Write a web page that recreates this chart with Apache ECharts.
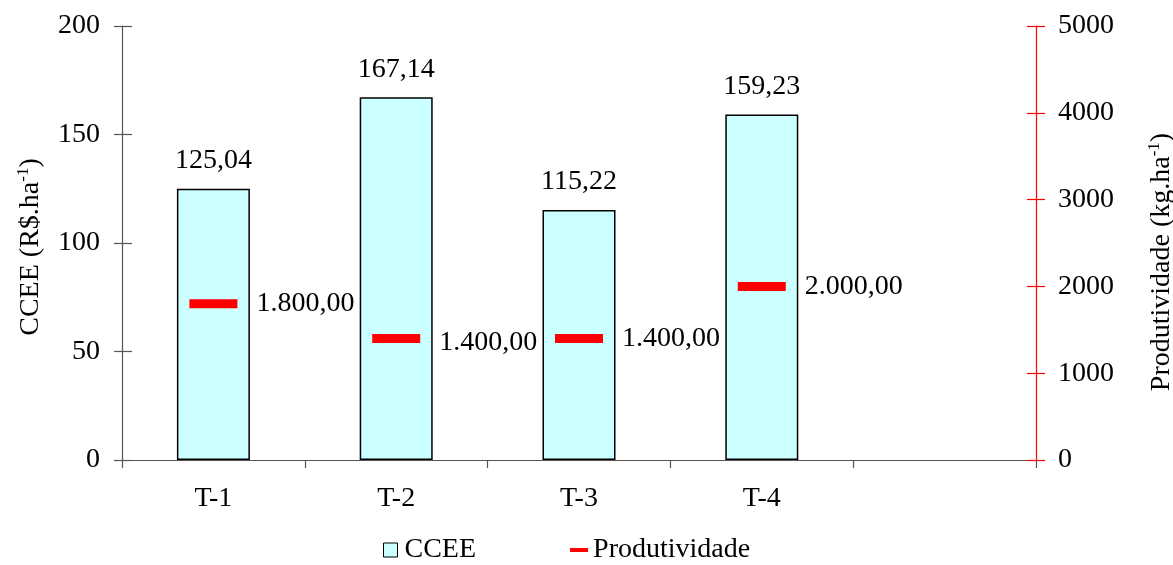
<!DOCTYPE html>
<html>
<head>
<meta charset="utf-8">
<script src="https://cdn.jsdelivr.net/npm/echarts@6/dist/echarts.min.js"></script>
<style>
  html, body { margin: 0; padding: 0; background: #fff; }
  #chart { width: 1173px; height: 565px; }
</style>
</head>
<body>
<div id="chart"></div>
<script>
// Treatments (the last slot is an empty category)
const categories = ['T-1', 'T-2', 'T-3', 'T-4', ''];
// CCEE cost per treatment (R$.ha-1)
const cceeValues = [125.04, 167.14, 115.22, 159.23, null];
// Productivity per treatment (kg.ha-1)
const prodValues = [1800, 1400, 1400, 2000, null];
// Axis ranges
const leftTicks = { min: 0, max: 200, interval: 50 };
const rightTicks = { min: 0, max: 5000, interval: 1000 };

const FONT = 'Liberation Serif';
const FS = 28;
const fmtBR = (v, d) => v.toFixed(d).replace('.', ',').replace(/\B(?=(\d{3})+(?!\d))/g, '.');

const chart = echarts.init(document.getElementById('chart'));

const baseText = { fontFamily: FONT, fontSize: FS, color: '#000' };
const nameRich = {
  t: { fontFamily: FONT, fontSize: FS, color: '#000' },
  s: { fontFamily: FONT, fontSize: 17, color: '#000', padding: [0, 0, 14, 0] }
};

chart.setOption({
  animation: false,
  backgroundColor: '#fff',
  textStyle: { fontFamily: FONT },
  grid: { left: 122, right: 137, top: 26, bottom: 105, containLabel: false, outerBoundsMode: 'none' },
  legend: {
    bottom: 1,
    left: 381,
    padding: 0,
    itemGap: 94,
    itemWidth: 18,
    itemHeight: 14,
    textStyle: Object.assign({}, baseText),
    data: [
      { name: 'CCEE', icon: 'path://M0,0 M2,0H16V14H2Z M18,14', itemStyle: { color: '#CCFFFF', borderColor: '#000', borderWidth: 1 } },
      { name: 'Produtividade', icon: 'path://M0,0 M0,5H18V9H0Z M18,14', itemStyle: { color: '#FF0000', borderWidth: 0, opacity: 1 } }
    ]
  },
  xAxis: {
    type: 'category',
    data: categories,
    boundaryGap: true,
    axisLine: { lineStyle: { color: '#555', width: 1.2 } },
    axisTick: { show: true, interval: 0, length: 8, lineStyle: { color: '#555', width: 1.2 } },
    axisLabel: Object.assign({}, baseText, { margin: 25, interval: 0 })
  },
  yAxis: [
    {
      type: 'value', position: 'left',
      min: leftTicks.min, max: leftTicks.max, interval: leftTicks.interval,
      name: '{t|CCEE (R$.ha}{s|-1}{t|)}',
      nameLocation: 'middle', nameRotate: 90, nameGap: 76,
      nameTextStyle: { rich: nameRich, padding: [0, 8, 0, 0] },
      axisLine: { show: true, lineStyle: { color: '#555', width: 1.2 } },
      axisTick: { show: true, length: 8, lineStyle: { color: '#555', width: 1.2 } },
      axisLabel: Object.assign({}, baseText, { margin: 22 }),
      splitLine: { show: false }
    },
    {
      type: 'value', position: 'right',
      min: rightTicks.min, max: rightTicks.max, interval: rightTicks.interval,
      name: '{t|Produtividade (kg.ha}{s|-1}{t|)}',
      nameLocation: 'middle', nameRotate: 90, nameGap: 110,
      nameTextStyle: { rich: nameRich, padding: [0, 38, 0, 0] },
      axisLine: { show: true, lineStyle: { color: '#FF0000', width: 1.2 } },
      axisTick: { show: true, length: 9, lineStyle: { color: '#FF0000', width: 1.2 } },
      axisLabel: Object.assign({}, baseText, { margin: 22, formatter: v => String(v) }),
      splitLine: { show: false }
    },
    // inner halves of the crossing tick marks
    {
      type: 'value', position: 'left',
      min: leftTicks.min, max: leftTicks.max, interval: leftTicks.interval,
      axisLine: { show: false },
      axisTick: { show: true, inside: true, length: 10, lineStyle: { color: '#555', width: 1.2 } },
      axisLabel: { show: false }, splitLine: { show: false }
    },
    {
      type: 'value', position: 'right',
      min: rightTicks.min, max: rightTicks.max, interval: rightTicks.interval,
      axisLine: { show: false },
      axisTick: { show: true, inside: true, length: 9, lineStyle: { color: '#FF0000', width: 1.2 } },
      axisLabel: { show: false }, splitLine: { show: false }
    }
  ],
  series: [
    {
      name: 'CCEE',
      type: 'bar',
      yAxisIndex: 0,
      barWidth: 73,
      data: cceeValues,
      itemStyle: { color: '#CCFFFF', borderColor: '#000', borderWidth: 1.5 },
      label: {
        show: true, position: 'top', distance: 14,
        fontFamily: FONT, fontSize: FS, color: '#000',
        formatter: p => fmtBR(p.value, 2)
      },
      z: 2
    },
    {
      name: 'Produtividade',
      type: 'scatter',
      yAxisIndex: 1,
      symbol: 'rect',
      symbolSize: [48, 9],
      itemStyle: { color: '#FF0000', opacity: 1 },
      data: prodValues.map((v, i) => ({
        value: v,
        label: i === 1 ? { offset: [0, 4] } : undefined
      })),
      label: {
        show: true, position: 'right', distance: 19,
        fontFamily: FONT, fontSize: FS, color: '#000',
        formatter: p => fmtBR(p.value, 2)
      },
      emphasis: { disabled: true },
      z: 3
    }
  ]
});
</script>
</body>
</html>
